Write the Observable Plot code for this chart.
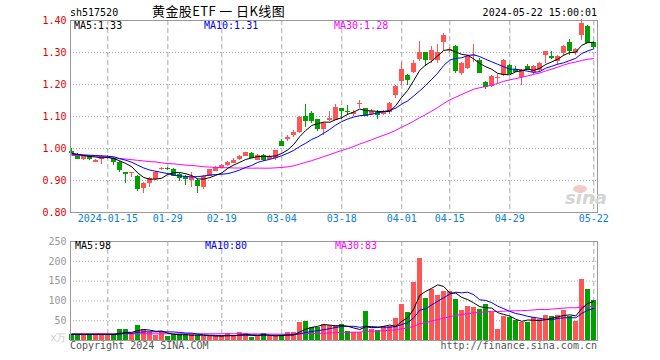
<!DOCTYPE html>
<html><head><meta charset="utf-8">
<script src="https://cdn.jsdelivr.net/npm/d3@7"></script>
<script src="https://cdn.jsdelivr.net/npm/@observablehq/plot@0.6"></script>
<style>
body{margin:0;background:#fff;}
#wrap{position:relative;width:660px;height:360px;overflow:hidden;font-family:"DejaVu Sans Mono",monospace;font-size:10px;}
.t{position:absolute;white-space:pre;line-height:10px;}
#wrap svg{position:absolute;left:0;}
</style></head><body><div id="wrap"></div>
<script>
// ---- data (sh517520 daily K-line) ----
const dates = [
"2024-01-05","2024-01-08","2024-01-09","2024-01-10","2024-01-11","2024-01-12","2024-01-15","2024-01-16","2024-01-17","2024-01-18",
"2024-01-19","2024-01-22","2024-01-23","2024-01-24","2024-01-25","2024-01-26","2024-01-29","2024-01-30","2024-01-31","2024-02-01",
"2024-02-02","2024-02-05","2024-02-06","2024-02-07","2024-02-08","2024-02-19","2024-02-20","2024-02-21","2024-02-22","2024-02-23",
"2024-02-26","2024-02-27","2024-02-28","2024-02-29","2024-03-01","2024-03-04","2024-03-05","2024-03-06","2024-03-07","2024-03-08",
"2024-03-11","2024-03-12","2024-03-13","2024-03-14","2024-03-15","2024-03-18","2024-03-19","2024-03-20","2024-03-21","2024-03-22",
"2024-03-25","2024-03-26","2024-03-27","2024-03-28","2024-03-29","2024-04-01","2024-04-02","2024-04-03","2024-04-08","2024-04-09",
"2024-04-10","2024-04-11","2024-04-12","2024-04-15","2024-04-16","2024-04-17","2024-04-18","2024-04-19","2024-04-22","2024-04-23",
"2024-04-24","2024-04-25","2024-04-26","2024-04-29","2024-04-30","2024-05-06","2024-05-07","2024-05-08","2024-05-09","2024-05-10",
"2024-05-13","2024-05-14","2024-05-15","2024-05-16","2024-05-17","2024-05-20","2024-05-21","2024-05-22"];
const open = [
0.991,0.982,0.966,0.976,0.956,0.967,0.969,0.968,0.955,0.925,
0.922,0.913,0.876,0.891,0.902,0.936,0.938,0.934,0.920,0.913,
0.899,0.901,0.877,0.913,0.928,0.938,0.946,0.954,0.965,0.975,
0.985,0.963,0.978,0.966,0.969,1.022,1.027,1.041,1.049,1.100,
1.110,1.090,1.059,1.088,1.088,1.124,1.117,1.105,1.139,1.124,
1.107,1.114,1.106,1.113,1.166,1.208,1.229,1.239,1.278,1.299,
1.276,1.274,1.331,1.306,1.320,1.234,1.250,1.290,1.276,1.205,
1.195,1.218,1.229,1.260,1.248,1.221,1.255,1.236,1.244,1.290,
1.289,1.272,1.298,1.331,1.298,1.352,1.381,1.331];
const high = [
1.000,0.984,0.979,0.978,0.966,0.978,0.979,0.971,0.958,0.926,
0.925,0.916,0.893,0.908,0.928,0.940,0.940,0.936,0.921,0.916,
0.925,0.904,0.916,0.935,0.944,0.950,0.959,0.969,0.978,0.988,
0.989,0.980,0.981,0.977,0.995,1.027,1.040,1.055,1.100,1.138,
1.115,1.092,1.080,1.116,1.138,1.126,1.135,1.118,1.150,1.126,
1.123,1.118,1.120,1.143,1.196,1.269,1.232,1.275,1.333,1.300,
1.318,1.326,1.360,1.316,1.322,1.270,1.292,1.326,1.280,1.208,
1.229,1.230,1.278,1.264,1.255,1.246,1.262,1.260,1.268,1.304,
1.302,1.292,1.322,1.340,1.313,1.402,1.385,1.335];
const low = [
0.983,0.965,0.962,0.962,0.955,0.950,0.966,0.946,0.926,0.891,
0.910,0.866,0.858,0.878,0.900,0.930,0.931,0.914,0.897,0.884,
0.878,0.858,0.872,0.911,0.927,0.936,0.945,0.953,0.963,0.974,
0.970,0.961,0.960,0.962,0.962,1.005,1.022,1.035,1.046,1.067,
1.077,1.054,1.040,1.085,1.086,1.090,1.103,1.100,1.126,1.100,
1.103,1.091,1.103,1.105,1.156,1.197,1.197,1.233,1.271,1.255,
1.265,1.265,1.307,1.300,1.234,1.229,1.248,1.270,1.236,1.184,
1.192,1.203,1.225,1.230,1.236,1.198,1.244,1.230,1.238,1.266,
1.278,1.258,1.287,1.290,1.290,1.336,1.328,1.311];
const close = [
0.988,0.969,0.977,0.970,0.963,0.975,0.975,0.960,0.933,0.923,
0.924,0.876,0.891,0.906,0.925,0.938,0.936,0.916,0.910,0.905,
0.910,0.884,0.913,0.933,0.941,0.947,0.957,0.964,0.975,0.986,
0.971,0.979,0.966,0.975,0.993,1.010,1.035,1.051,1.098,1.088,
1.088,1.062,1.077,1.095,1.129,1.119,1.115,1.112,1.141,1.104,
1.116,1.106,1.113,1.141,1.194,1.247,1.215,1.267,1.299,1.278,
1.305,1.299,1.352,1.309,1.244,1.267,1.286,1.292,1.239,1.194,
1.226,1.222,1.276,1.233,1.242,1.243,1.247,1.255,1.265,1.303,
1.284,1.288,1.318,1.305,1.310,1.391,1.330,1.320];
const volume = [
16,16,16,16,16,16,16,14,28,28,
17,38,27,21,13,21,10,14,14,14,
14,13,10,10,10,13,17,10,19,17,
8,13,17,10,10,13,19,19,45,48,
34,34,40,38,38,40,23,19,19,73,
28,24,35,35,56,91,71,146,207,106,
130,114,125,125,104,76,86,83,78,91,
71,28,61,58,50,45,45,58,53,63,
61,63,76,61,49,154,129,101];
// moving-average values before a full window exists
const ma5Head  = [0.985,0.982,0.978,0.975];
const ma10Head = [0.982,0.981,0.980,0.979,0.978,0.977,0.976,0.974,0.968];
const ma30Head = [0.978,0.978,0.978,0.977,0.976,0.975,0.972,0.970,0.969,0.967,
                  0.965,0.963,0.961,0.959,0.958,0.955,0.953,0.952,0.950,0.948,
                  0.947,0.945,0.943,0.942,0.941,0.940,0.940,0.939,0.939];
const volMa5Head  = [16,16,16,16];
const volMa10Head = [15,15,15,15,15,15,15,15,16];
const volMa30Head = [17,17,17,17,17,17,17,17,17,17,17,17,17,17,17,17,17,17,17,17,17,17,17,17,17,17,17,17,17];
const tickDates  = ["2024-01-15","2024-01-29","2024-02-19","2024-03-04","2024-03-18","2024-04-01","2024-04-15","2024-04-29","2024-05-22"];
const tickLabels = ["2024-01-15","01-29","02-19","03-04","03-18","04-01","04-15","04-29","05-22"];
const priceTicks = [0.80,0.90,1.00,1.10,1.20,1.30,1.40];
const volTicks = [50,100,150,200,250];
const priceLegend = ["MA5:1.33","MA10:1.31","MA30:1.28"];
const volLegend = ["MA5:98","MA10:80","MA30:83"];
const code = "sh517520", title = "黄金股ETF 一 日K线图", stamp = "2024-05-22 15:00:01";

// ---- build ----
const RED = "#ff5555", GREEN = "#00a000";
const data = dates.map((d,i)=>({i, o:open[i], h:high[i], l:low[i], c:close[i], v:volume[i], col: close[i] >= open[i] ? RED : GREEN}));
function ma(vals, n, head){ return vals.map((v,i)=> i < n-1 ? head[i] : d3.mean(vals.slice(i-n+1, i+1))); }
const lines = (arr) => arr.map((v,i)=>({i, v}));
const ma5 = lines(ma(close,5,ma5Head)), ma10 = lines(ma(close,10,ma10Head)), ma30 = lines(ma(close,30,ma30Head));
const vma5 = lines(ma(volume,5,volMa5Head)), vma10 = lines(ma(volume,10,volMa10Head)), vma30 = lines(ma(volume,30,volMa30Head));
const tickIdx = tickDates.map(d=>dates.indexOf(d));
const xDomain = [-0.22, 87.62];
const HW = 0.42;
const common = {width:660, marginLeft:70, marginRight:63, style:{fontFamily:"DejaVu Sans Mono, monospace", fontSize:"10px", background:"transparent", overflow:"visible"}};

const price = Plot.plot({...common, height:230, marginTop:20, marginBottom:18,
  x:{domain:xDomain, axis:null}, y:{domain:[0.8,1.4], axis:null}, color:{type:"identity"},
  marks:[
    Plot.ruleY(priceTicks.slice(1,-1), {stroke:"#aaa", strokeDasharray:"1,2"}),
    Plot.ruleX(tickIdx, {stroke:"#aaa", strokeDasharray:"5,3"}),
    Plot.ruleX(data, {x:"i", y1:"l", y2:"h", stroke:"col", shapeRendering:"crispEdges"}),
    Plot.rect(data, {x1:d=>d.i-HW, x2:d=>d.i+HW, y1:"o", y2:"c", fill:"col", shapeRendering:"crispEdges"}),
    Plot.ruleY(data, {y:"c", x1:d=>d.i-HW, x2:d=>d.i+HW, stroke:"col", shapeRendering:"crispEdges"}),
    Plot.line(ma30, {x:"i", y:"v", stroke:"#ff00ff", strokeWidth:1}),
    Plot.line(ma10, {x:"i", y:"v", stroke:"#0000ff", strokeWidth:1}),
    Plot.line(ma5, {x:"i", y:"v", stroke:"#000", strokeWidth:1}),
    Plot.frame({stroke:"#999"}),
    Plot.text(priceTicks, {y:d=>d, frameAnchor:"left", dx:-4, textAnchor:"end", text:d=>d.toFixed(2), fill:"#e00000"}),
    Plot.text(tickIdx, {x:d=>d, frameAnchor:"bottom", dy:9, text:(d,k)=>tickLabels[k], fill:"#0a80d0"})
  ]});
price.style.top = "0px";

const vol = Plot.plot({...common, height:130, marginTop:11, marginBottom:20,
  x:{domain:xDomain, axis:null}, y:{domain:[0,250], axis:null}, color:{type:"identity"},
  marks:[
    Plot.ruleY(volTicks.slice(0,-1), {stroke:"#aaa", strokeDasharray:"1,2"}),
    Plot.ruleX(tickIdx, {stroke:"#aaa", strokeDasharray:"5,3"}),
    Plot.rect(data, {x1:d=>d.i-HW, x2:d=>d.i+HW, y1:0, y2:"v", fill:"col", shapeRendering:"crispEdges"}),
    Plot.line(vma30, {x:"i", y:"v", stroke:"#ff00ff", strokeWidth:1}),
    Plot.line(vma10, {x:"i", y:"v", stroke:"#0000ff", strokeWidth:1}),
    Plot.line(vma5, {x:"i", y:"v", stroke:"#000", strokeWidth:1}),
    Plot.frame({stroke:"#999"}),
    Plot.text(volTicks, {y:d=>d, frameAnchor:"left", dx:-4, textAnchor:"end", text:d=>String(d), fill:"#999"}),
    Plot.text(["x万"], {frameAnchor:"bottom-left", dx:-4, textAnchor:"end", text:d=>d, fill:"#ccc"})
  ]});
vol.style.top = "230px";

const wrap = document.getElementById("wrap");
wrap.appendChild(price); wrap.appendChild(vol);
function label(txt, css){ const s=document.createElement("div"); s.className="t"; s.textContent=txt; Object.assign(s.style, css); wrap.appendChild(s); return s; }
label(code, {left:"70px", top:"8px", color:"#000"});
label(title, {left:"152px", top:"4px", fontFamily:"'Noto Sans CJK SC', sans-serif", fontSize:"13px", lineHeight:"14px", letterSpacing:"0.4px", color:"#000"});
label(stamp, {right:"63px", top:"8px", color:"#000"});
const legX = [74, 204, 334], legC = ["#000","#0000ff","#ff00ff"];
priceLegend.forEach((t,k)=>label(t, {left:legX[k]+"px", top:"21px", color:legC[k]}));
volLegend.forEach((t,k)=>label(t, {left:(legX[k]+1)+"px", top:"241px", color:legC[k]}));
label("Copyright 2024 SINA.COM", {left:"70px", top:"341px", color:"#555"});
label("http://finance.sina.com.cn", {right:"63px", top:"341px", color:"#555"});
// faint sina watermark
const eye = document.createElement("div");
Object.assign(eye.style, {position:"absolute", left:"573px", top:"185px", width:"14px", height:"8px", borderRadius:"50%", background:"#f6caca"});
wrap.appendChild(eye);
label("sina", {left:"565px", top:"189px", fontFamily:"'DejaVu Sans', sans-serif", fontSize:"18px", lineHeight:"18px", fontStyle:"italic", fontWeight:"bold", color:"#d4d4d4"});
</script></body></html>
